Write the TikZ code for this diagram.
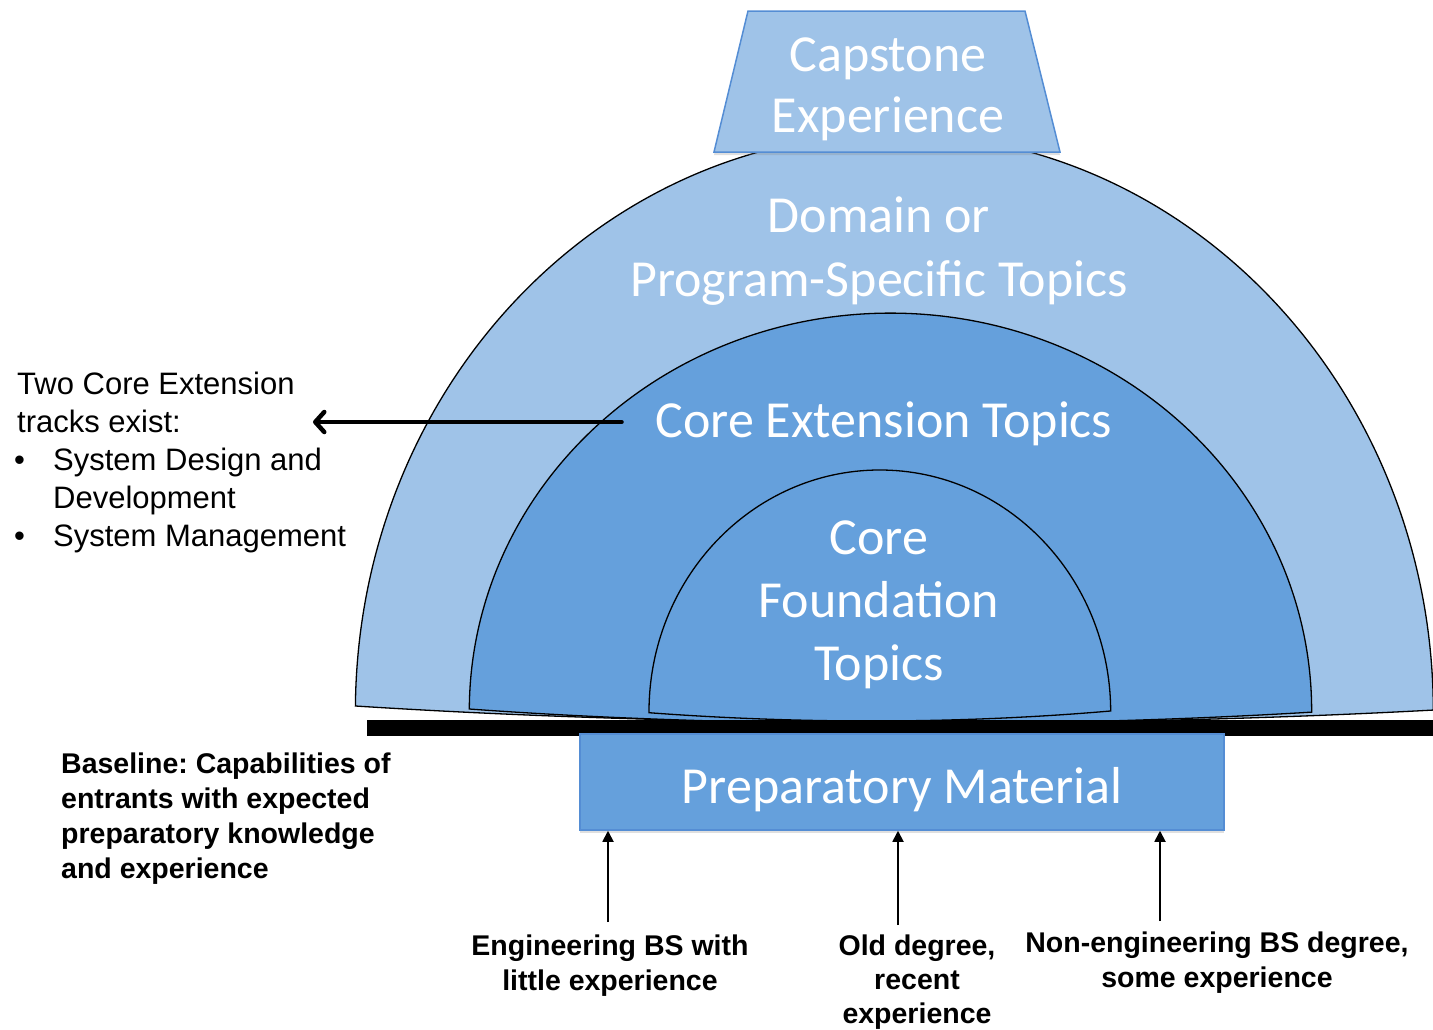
\documentclass[tikz,border=0pt]{standalone}
\usepackage{fontspec}
\setmainfont{Liberation Sans}
\newfontfamily\carlito{Carlito}
\usetikzlibrary{arrows.meta,shadows}
\definecolor{lightblue}{RGB}{159,195,232}
\definecolor{midblue}{RGB}{101,160,220}
\definecolor{boxedge}{RGB}{84,141,212}
\frenchspacing
\begin{document}
\begin{tikzpicture}[x=1pt,y=-1pt,
  arcshape/.style={draw=black, line width=1.3pt},
  bigtext/.style={text=white, inner sep=0pt, anchor=base, font=\carlito\fontsize{52}{61}\selectfont},
  lefttext/.style={inner sep=0pt, anchor=base west, font=\fontsize{31}{38}\selectfont},
  boldtext/.style={inner sep=0pt, font=\bfseries\fontsize{28.5}{35}\selectfont},
  prepbox/.style={fill=midblue, draw=boxedge, line width=1.5pt, minimum width=644pt, minimum height=96pt,
    inner sep=0pt, text height=42pt, text depth=0pt, text=white, font=\carlito\fontsize{52}{61}\selectfont,
    drop shadow={opacity=0.25, shadow xshift=0pt, shadow yshift=-3pt}},
  uparrow/.style={line width=1.8pt, -{Triangle[length=11pt,width=11pt]}},
  leftarrow/.style={line width=3.5pt, line cap=round, -{Straight Barb[length=9pt,width=20pt,line width=4.5pt,round]}}
]
\useasboundingbox (0,0) rectangle (1433,1029);

% outer band
\draw[arcshape, fill=lightblue] (355.4,706) arc[start angle=180.6, end angle=359.8, x radius=539, y radius=578.6]
  .. controls (1100,728) and (700,728) .. (355.4,706) -- cycle;
% middle band
\draw[arcshape, fill=midblue] (469.3,709) arc[start angle=180.3, end angle=360.15, x radius=421.2, y radius=398]
  .. controls (1050,728) and (730,728) .. (469.3,709) -- cycle;
% inner band
\draw[arcshape, fill=midblue] (649,712.7) arc[start angle=179.83, end angle=359.76, x radius=230.85, y radius=242]
  .. controls (960,724) and (800,724) .. (649,712.7) -- cycle;

% baseline bar
\fill[black] (367,720) rectangle (1433,736);

% capstone trapezoid
\draw[fill=lightblue, draw=boxedge, line width=1.5pt, drop shadow={opacity=0.25, shadow xshift=0pt, shadow yshift=-3pt}]
  (748,11) -- (1025,11) -- (1060,152) -- (714,152) -- cycle;

\node[bigtext] (capstone) at (888,71) {\begin{tabular}[t]{@{}c@{}}Capstone\\Experience\end{tabular}};
\node[bigtext, font=\carlito\fontsize{52}{64}\selectfont] (domain) at (879,232) {\begin{tabular}[t]{@{}c@{}}Domain or\\Program-Specific Topics\end{tabular}};
\node[bigtext] (coreext) at (884,437) {Core Extension Topics};
\node[bigtext, font=\carlito\fontsize{52}{63}\selectfont] (corefound) at (879,554) {\begin{tabular}[t]{@{}c@{}}Core\\Foundation\\Topics\end{tabular}};

\node[prepbox] (prep) at (902,782) {Preparatory Material};

% left text
\node[lefttext] (tracks) at (17,394) {\begin{tabular}[t]{@{}l@{}}Two Core Extension\\tracks exist:\\
\makebox[36pt][l]{\hspace*{-3pt}\textbullet}System Design and\\
\hspace*{36pt}Development\\
\makebox[36pt][l]{\hspace*{-3pt}\textbullet}System Management\end{tabular}};

\coordinate (ceStart) at (622,422);
\coordinate (ceTip) at (313,422);
\draw[leftarrow] (ceStart) -- (ceTip);

% baseline text
\node[boldtext, anchor=base west] (baseline) at (61,773) {\begin{tabular}[t]{@{}l@{}}Baseline: Capabilities of\\entrants with expected\\preparatory knowledge\\and experience\end{tabular}};

% bottom labels
\node[boldtext, anchor=base] (eng) at (610,955) {\begin{tabular}[t]{@{}c@{}}Engineering BS with\\little experience\end{tabular}};
\node[boldtext, anchor=base, font=\bfseries\fontsize{28.5}{34}\selectfont] (old) at (917,955) {\begin{tabular}[t]{@{}c@{}}Old degree,\\recent\\experience\end{tabular}};
\node[boldtext, anchor=base] (noneng) at (1217,952) {\begin{tabular}[t]{@{}c@{}}Non-engineering BS degree,\\some experience\end{tabular}};

\coordinate (s1) at (608,922);
\coordinate (s2) at (898,925);
\coordinate (s3) at (1160,921);
\draw[uparrow] (s1) -- (s1 |- prep.south);
\draw[uparrow] (s2) -- (s2 |- prep.south);
\draw[uparrow] (s3) -- (s3 |- prep.south);
\end{tikzpicture}
\end{document}
